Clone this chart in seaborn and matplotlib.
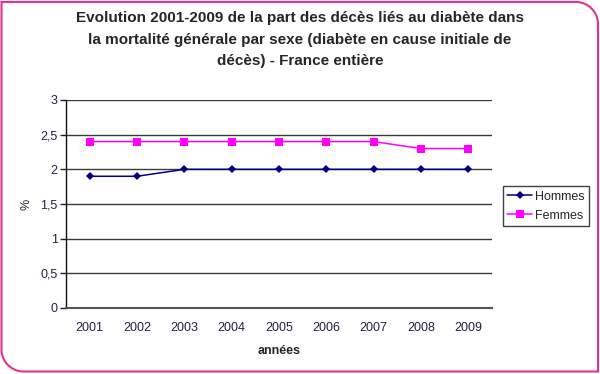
import matplotlib
matplotlib.use("Agg")
import matplotlib.pyplot as plt
import pandas as pd
import seaborn as sns
from matplotlib.path import Path
from matplotlib.patches import PathPatch
from matplotlib.ticker import FuncFormatter
from matplotlib.transforms import IdentityTransform

years = ["2001", "2002", "2003", "2004", "2005", "2006", "2007", "2008", "2009"]
hommes = [1.9, 1.9, 2.0, 2.0, 2.0, 2.0, 2.0, 2.0, 2.0]
femmes = [2.4, 2.4, 2.4, 2.4, 2.4, 2.4, 2.4, 2.3, 2.3]

title = ("Evolution 2001-2009 de la part des décès liés au diabète dans\n"
         "la mortalité générale par sexe (diabète en cause initiale de\n"
         "décès) - France entière")

df = pd.DataFrame({"année": years * 2,
                   "valeur": hommes + femmes,
                   "sexe": ["Hommes"] * len(years) + ["Femmes"] * len(years)})
df["pos"] = df["année"].map({y: i for i, y in enumerate(years)})

sns.set_theme(style="white")
plt.rcParams["font.family"] = ["Liberation Sans", "DejaVu Sans"]

fig = plt.figure(figsize=(6, 3.74), dpi=100)
ax = fig.add_axes([66 / 600, 1 - 308 / 374, 426 / 600, 208 / 374])

sns.lineplot(data=df, x="pos", y="valeur", hue="sexe", style="sexe",
             palette={"Hommes": "#000080", "Femmes": "#FF00FF"},
             markers={"Hommes": "D", "Femmes": "s"}, dashes=False,
             markersize=5.5, linewidth=1.1, markeredgewidth=0, ax=ax, zorder=3)
for line in ax.get_lines():
    if line.get_color() == "#000080":
        line.set_markersize(4.5)

ax.set_xlim(-0.5, 8.5)
ax.set_ylim(0, 3)
ax.set_yticks([0, 0.5, 1, 1.5, 2, 2.5, 3])
ax.yaxis.set_major_formatter(FuncFormatter(lambda v, p: f"{v:g}".replace(".", ",")))
ax.set_xticks(range(len(years)))
ax.set_xticklabels(years)
ax.set_xticks([i - 0.5 for i in range(len(years) + 1)], minor=True)
ax.tick_params(axis="x", which="major", length=0, pad=10, labelsize=9, labelcolor="#222244")
ax.tick_params(axis="x", which="minor", length=4, width=1, color="#222222", direction="out")
ax.tick_params(axis="y", length=4, width=1, color="#222222", direction="out",
               labelsize=9, labelcolor="#222244", pad=2, left=True)
ax.grid(axis="y", color="#3a3a3a", linewidth=1)
for s in ["top", "right"]:
    ax.spines[s].set_visible(False)
ax.spines["left"].set_color("#111111")
ax.spines["bottom"].set_color("#555555")
ax.spines["bottom"].set_linewidth(1.5)
ax.spines["left"].set_linewidth(1)

ax.set_xlabel("années", fontsize=9, fontweight="bold", labelpad=8)
ax.set_ylabel("%", fontsize=9, labelpad=6)

handles, labels = ax.get_legend_handles_labels()
leg = ax.legend(handles, labels, loc="center left", bbox_to_anchor=(1.025, 0.49),
                frameon=True, fancybox=False, edgecolor="#111111", fontsize=9,
                handlelength=2.0, handletextpad=0.2, borderpad=0.35, labelspacing=0.55,
                borderaxespad=0)
leg.get_frame().set_linewidth(1)

fig.text(0.5, 0.97, title, ha="center", va="top", fontsize=11,
         fontweight="bold", linespacing=1.68)

# pink frame with two rounded corners
W, H, r, k = 600, 374, 22, 0.55
x0, x1, y0, y1 = 1.5, 598, 2.5, 372
verts = [(x0, y1), (x1 - r, y1),
         (x1 - r + k * r, y1), (x1, y1 - r + k * r), (x1, y1 - r),
         (x1, y0), (x0 + r, y0),
         (x0 + r - k * r, y0), (x0, y0 + r - k * r), (x0, y0 + r),
         (x0, y1)]
codes = [Path.MOVETO, Path.LINETO, Path.CURVE4, Path.CURVE4, Path.CURVE4,
         Path.LINETO, Path.LINETO, Path.CURVE4, Path.CURVE4, Path.CURVE4,
         Path.CLOSEPOLY]
fig.patches.append(PathPatch(Path(verts, codes), transform=IdentityTransform(),
                             facecolor="none", edgecolor="#E8328A", linewidth=1.5))

fig.savefig("out.png", dpi=100)
